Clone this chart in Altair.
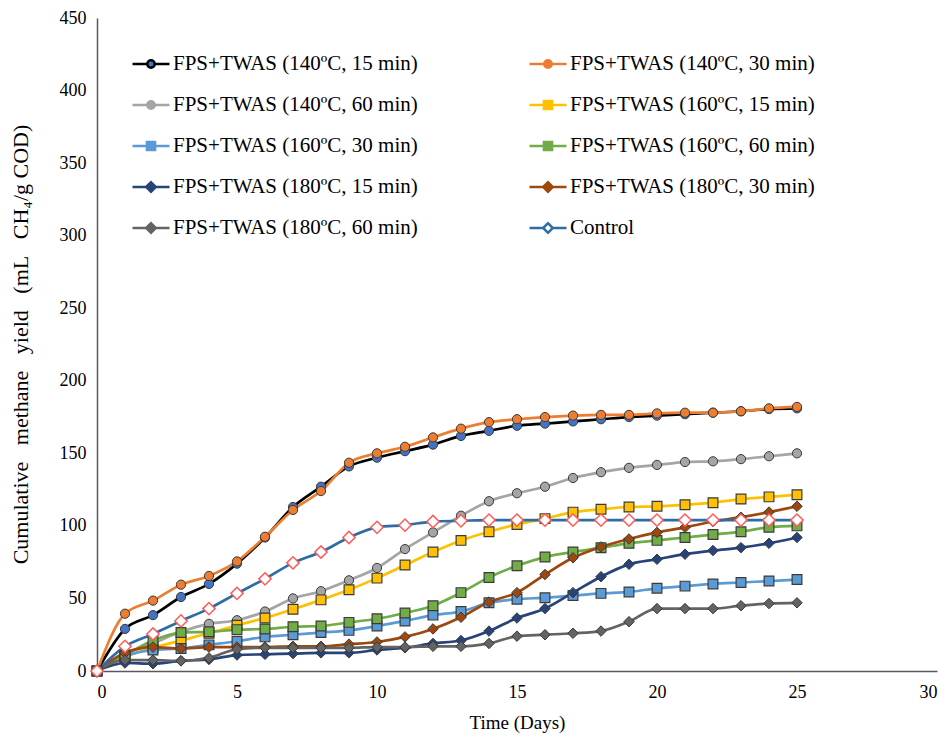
import altair as alt
import pandas as pd

days = list(range(26))

series_names = [
    "FPS+TWAS (140ºC, 15 min)",
    "FPS+TWAS (140ºC, 30 min)",
    "FPS+TWAS (140ºC, 60 min)",
    "FPS+TWAS (160ºC, 15 min)",
    "FPS+TWAS (160ºC, 30 min)",
    "FPS+TWAS (160ºC, 60 min)",
    "FPS+TWAS (180ºC, 15 min)",
    "FPS+TWAS (180ºC, 30 min)",
    "FPS+TWAS (180ºC, 60 min)",
    "Control",
]

s140_15 = [0, 29, 38.5, 51, 60, 74, 92, 113, 127, 141, 147, 151.5, 156, 162, 165.5, 169, 170.5, 172, 173.5, 175, 176, 177, 178, 179, 180.5, 181]
s140_30 = [0, 39.5, 48.5, 59.5, 65.5, 75.5, 92.5, 111, 124, 143.5, 150, 154.5, 161, 167, 171.5, 173.5, 175, 176, 176.5, 176.5, 177.5, 178, 178, 179, 181, 182]
s140_60 = [0, 12, 19, 27, 32.5, 35, 41, 50, 55, 62.5, 71, 84, 95.5, 107, 117, 122.5, 127, 133, 137, 140, 142, 144, 144.5, 146, 148, 150]
s160_15 = [0, 10, 16, 21, 26, 31.5, 36.5, 42.5, 49, 56, 64, 73, 82, 90, 96, 101, 105, 109.5, 111.5, 113, 113.5, 114.5, 116, 118.5, 120, 121.5]
s160_30 = [0, 10, 14.5, 15.5, 18, 20.5, 23.5, 25, 26.5, 28, 31, 34.5, 38.5, 41, 47, 49.5, 50.5, 52, 53.5, 54.5, 57, 58.5, 60, 61, 62, 63]
s160_60 = [0, 11, 21, 26.5, 27, 28.5, 29, 30.5, 31, 33.5, 36, 40, 45, 54, 64.5, 72.5, 78.5, 82, 85, 88, 90, 92, 94, 96, 99, 100]
s180_15 = [0, 5.5, 5, 7, 8, 11, 11.5, 12, 12.5, 12.5, 14.5, 16, 19, 21, 27.5, 36.5, 43, 54, 65, 73.5, 77, 80.5, 83, 85, 88, 92]
s180_30 = [0, 12.5, 16.5, 15.5, 16.5, 16.5, 16.5, 17, 17, 18.5, 20, 23.5, 29, 37, 47.5, 54, 66.5, 78, 85.5, 91, 95.5, 99, 103, 106, 109.5, 113.5]
s180_60 = [0, 7.5, 7.5, 7, 9, 15, 16, 16, 16, 16, 16.5, 16.5, 17, 17, 19, 24, 25, 26, 27.5, 34, 43, 43, 43, 45, 46.5, 47]
control = [0, 17, 25.5, 34.5, 43, 53.5, 63.5, 74.5, 82, 92, 99, 100.5, 103, 103.5, 104, 104, 104, 104, 104, 104, 104, 104, 104, 104, 104, 104]

all_values = [s140_15, s140_30, s140_60, s160_15, s160_30, s160_60, s180_15, s180_30, s180_60, control]
marker_kinds = ["circle", "circle", "circle", "square", "square", "square", "diamond", "diamond", "diamond", "control"]

line_colors = ["#000000", "#ED7D31", "#A5A5A5", "#FFC000", "#5B9BD5", "#70AD47", "#264478", "#9E480E", "#636363", "#2E6DA4"]
fill_colors = ["#4472C4", "#ED7D31", "#A5A5A5", "#FFC000", "#5B9BD5", "#70AD47", "#264478", "#9E480E", "#636363", "#FFFFFF"]

# legend reading order (two columns, filled column by column)
legend_order = [0, 2, 4, 6, 8, 1, 3, 5, 7, 9]

x_ticks = [0, 5, 10, 15, 20, 25, 30]
y_ticks = [0, 50, 100, 150, 200, 250, 300, 350, 400, 450]

rows = []
for name, vals, mk in zip(series_names, all_values, marker_kinds):
    for d, v in zip(days, vals):
        rows.append({"day": d, "value": v, "series": name, "marker": mk})
df = pd.DataFrame(rows)

# legend symbols: a line with the marker in the middle
circle_p = "M-1,0H-0.2M0.2,0H1M-0.2,0A0.2,0.2,0,1,1,0.2,0A0.2,0.2,0,1,1,-0.2,0Z"
square_p = "M-1,0H-0.22M0.22,0H1M-0.22,-0.22H0.22V0.22H-0.22Z"
diamond_p = "M-1,0H-0.26M0.26,0H1M-0.26,0L0,-0.26L0.26,0L0,0.26Z"
legend_paths = [circle_p] * 3 + [square_p] * 3 + [diamond_p] * 4

dom = [series_names[i] for i in legend_order]
line_rng = [line_colors[i] for i in legend_order]
fill_rng = [fill_colors[i] for i in legend_order]
path_rng = [legend_paths[i] for i in legend_order]

FONT = "Liberation Serif"
GAP = "\u00a0" * 3

leg = alt.Legend(
    title=None,
    orient="none",
    legendX=34,
    legendY=26,
    columns=2,
    columnPadding=106,
    rowPadding=11,
    symbolSize=1369,
    symbolStrokeWidth=2.5,
    symbolOpacity=1,
    symbolFillColor="white",
    labelFont=FONT,
    labelFontSize=21,
    labelColor="black",
    labelLimit=500,
    labelOffset=2,
)

x_enc = alt.X(
    "day:Q",
    scale=alt.Scale(domain=[0, 30], nice=False),
    axis=alt.Axis(
        values=x_ticks,
        title="Time  (Days)",
        titleFont=FONT,
        titleFontSize=19,
        titleFontWeight="normal",
        titleColor="black",
        titleX=420,
        titleY=51,
        titleBaseline="middle",
        labelPadding=12,
    ),
)
y_enc = alt.Y(
    "value:Q",
    scale=alt.Scale(domain=[0, 450], nice=False),
    axis=alt.Axis(
        values=y_ticks,
        title="Cumulative" + GAP + "methane" + GAP + "yield" + GAP + "(mL" + GAP + "CH\u2084/g COD)",
        titleFont=FONT,
        titleFontSize=22,
        titleFontWeight="normal",
        titleColor="black",
        titleAngle=-90,
        titleX=-77,
        titleY=326,
        titleAlign="center",
        titleBaseline="middle",
        labelPadding=11,
    ),
)

stroke_enc = alt.Stroke("series:N", scale=alt.Scale(domain=dom, range=line_rng), legend=leg)
fill_enc = alt.Fill("series:N", scale=alt.Scale(domain=dom, range=fill_rng), legend=leg)
shape_enc = alt.Shape("series:N", scale=alt.Scale(domain=dom, range=path_rng), legend=leg)

base = alt.Chart(df)

lines = base.mark_line(interpolate="monotone", strokeWidth=2.7).encode(
    x=x_enc, y=y_enc, stroke=stroke_enc, detail="series:N"
)

outline = alt.value("#3A3A3A")

circles = base.transform_filter(alt.datum.marker == "circle").mark_point(
    shape="circle", filled=True, size=85, strokeWidth=1, opacity=1
).encode(x="day:Q", y="value:Q", fill=fill_enc, stroke=outline)

squares = base.transform_filter(alt.datum.marker == "square").mark_point(
    shape="square", filled=True, size=95, strokeWidth=1.2, opacity=1
).encode(x="day:Q", y="value:Q", fill=fill_enc, stroke=outline)

diamonds = base.transform_filter(alt.datum.marker == "diamond").mark_point(
    shape="diamond", filled=True, size=110, strokeWidth=1, opacity=1
).encode(x="day:Q", y="value:Q", fill=fill_enc, stroke=outline)

ctrl = base.transform_filter(alt.datum.marker == "control").mark_point(
    shape="diamond", filled=True, size=150, strokeWidth=1.5, opacity=1
).encode(x="day:Q", y="value:Q", fill=fill_enc, stroke=alt.value("#FF5A5A"))

legend_layer = base.transform_filter(alt.datum.day == 0).mark_point(
    filled=True, opacity=0
).encode(x="day:Q", y="value:Q", fill=fill_enc, stroke=stroke_enc, shape=shape_enc)

chart = (
    alt.layer(lines, circles, squares, diamonds, ctrl, legend_layer)
    .properties(
        width=840,
        height=653,
        autosize=alt.AutoSizeParams(type="none"),
        padding={"left": 97, "top": 18, "right": 14, "bottom": 67},
        background="white",
    )
    .configure_view(stroke=None)
    .configure_axis(
        grid=False,
        ticks=False,
        domainColor="#595959",
        domainWidth=1.5,
        labelFont=FONT,
        labelFontSize=18,
        labelColor="black",
    )
)

chart.save("out.html", embed_options={"renderer": "svg", "actions": False})
